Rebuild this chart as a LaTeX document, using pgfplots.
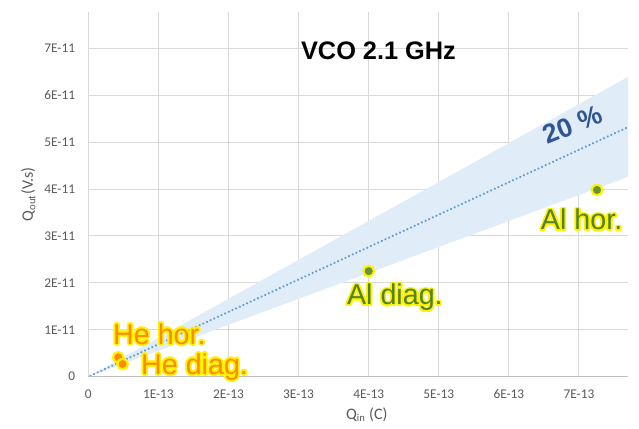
\documentclass[border=0pt]{standalone}
\usepackage{pgfplots}
\pgfplotsset{compat=1.18}
\usepackage{fontspec}
\setmainfont{Carlito}
\newfontfamily\arial{Liberation Sans}
\usepackage{contour}
\contourlength{1.3pt}
\definecolor{gridgray}{RGB}{217,217,217}
\definecolor{axisgray}{RGB}{191,191,191}
\definecolor{tickgray}{RGB}{89,89,89}
\definecolor{bandblue}{RGB}{224,236,247}
\definecolor{trendblue}{RGB}{91,155,213}
\definecolor{pctblue}{RGB}{47,85,151}
\definecolor{heorange}{RGB}{255,140,0}
\definecolor{algreen}{RGB}{84,130,40}
\definecolor{aldot}{RGB}{100,150,50}

\begin{document}
\begin{tikzpicture}
\path[use as bounding box] (-66.2pt,-38.5pt) rectangle (413pt,282.5pt);
\begin{axis}[scale only axis, width=404.8pt, height=273.75pt,
	at={(0,0)}, anchor=south west, clip=false,
	xmin=0, xmax=7.7e-13, ymin=0, ymax=7.78e-11,
	scaled x ticks=false, scaled y ticks=false,
	xtick={0,1e-13,2e-13,3e-13,4e-13,5e-13,6e-13,7e-13},
	xticklabels={0,1E-13,2E-13,3E-13,4E-13,5E-13,6E-13,7E-13},
	ytick={0,1e-11,2e-11,3e-11,4e-11,5e-11,6e-11,7e-11},
	yticklabels={0,1E-11,2E-11,3E-11,4E-11,5E-11,6E-11,7E-11},
	major tick length=0pt,
	tick label style={font=\fontsize{10}{12}\selectfont, text=tickgray},
	xticklabel style={yshift=-6.4pt}, yticklabel style={xshift=-6.4pt},
	grid=major, grid style={gridgray, line width=0.75pt},
	axis line style={draw=none},
	xlabel={Q\textsubscript{in} (C)}, ylabel={Q\textsubscript{out}(V.s)},
	label style={font=\fontsize{12}{14}\selectfont, text=tickgray},
	xlabel style={at={(axis description cs:0.516,-0.104)}, anchor=center},
	ylabel style={at={(axis description cs:-0.111,0.5)}, anchor=center}]
	% +/-20 % band around the fit
	\addplot[draw=none, fill=bandblue] coordinates {
		(0,0) (7.7e-13,6.39e-11) (7.7e-13,4.26e-11)} -- cycle;
	\addplot[trendblue, line width=1.8pt, line cap=round,
		dash pattern=on 0.01pt off 3pt] coordinates {
		(0.03e-13,0.02e-11) (7.7e-13,5.32e-11)};
	\draw[axisgray, line width=0.75pt] (rel axis cs:0,0) -- (rel axis cs:1,0);
	% measurements
	\addplot[only marks, mark=*, mark size=4pt,
		mark options={fill=heorange, draw=yellow, line width=1.6pt}] coordinates {
		(0.428e-13,0.414e-11) (0.49e-13,0.27e-11)};
	\addplot[only marks, mark=*, mark size=4pt,
		mark options={fill=aldot, draw=yellow, line width=1.6pt}] coordinates {
		(4.0e-13,2.25e-11) (7.257e-13,3.98e-11)};
	\node[font=\arial\bfseries\fontsize{19}{22}\selectfont] at (axis cs:4.14e-13,6.94e-11) {VCO 2.1 GHz};
	\node[pctblue, rotate=22, font=\arial\bfseries\fontsize{20}{22}\selectfont] at (axis cs:6.91e-13,5.37e-11) {20 \%};
	\begin{scope}[every node/.style={anchor=base west, inner sep=0pt, font=\arial\fontsize{21.5}{24}\selectfont}]
	\node[heorange] at (axis cs:0.352e-13,0.69e-11) {\contour{yellow}{He hor.}};
	\node[heorange] at (axis cs:0.751e-13,0.05e-11) {\contour{yellow}{He diag.}};
	\node[algreen] at (axis cs:3.688e-13,1.53e-11) {\contour{yellow}{Al diag.}};
	\node[algreen] at (axis cs:6.454e-13,3.13e-11) {\contour{yellow}{Al hor.}};
	\end{scope}
\end{axis}
\end{tikzpicture}
\end{document}
